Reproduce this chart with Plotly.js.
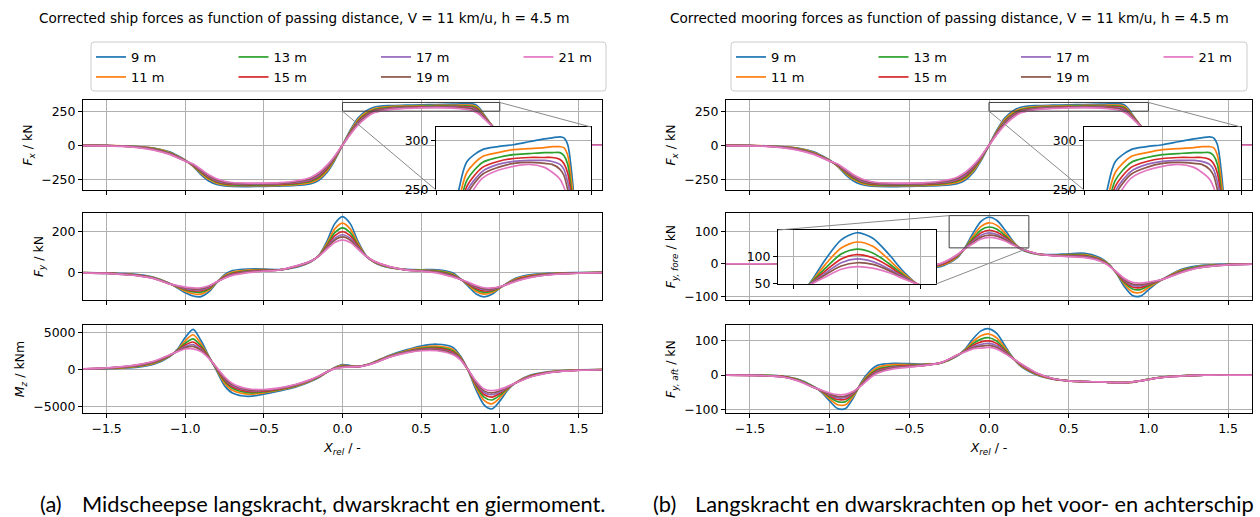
<!DOCTYPE html>
<html><head><meta charset="utf-8">
<script src="https://cdn.plot.ly/plotly-3.0.1.min.js"></script>
<style>html,body{margin:0;padding:0;background:#fff;overflow:hidden}#chart{width:1260px;height:517px;overflow:hidden}</style>
</head><body><div id="chart"></div>
<script>
const SERIES = ['9 m','11 m','13 m','15 m','17 m','19 m','21 m'];
const COLORS = ['#1f77b4','#ff7f0e','#2ca02c','#d62728','#9467bd','#8c564b','#e377c2'];
const X_TICKS = [-1.5,-1,-0.5,0,0.5,1,1.5];

const X = [-1.65,-1.5,-1.4,-1.3,-1.2,-1.1,-1.05,-1.0,-0.95,-0.9,-0.85,-0.8,-0.75,-0.7,-0.6,-0.5,-0.4,-0.3,-0.2,-0.15,-0.1,-0.05,0,0.05,0.1,0.15,0.2,0.3,0.4,0.5,0.6,0.7,0.75,0.8,0.85,0.9,0.95,1.0,1.05,1.1,1.2,1.3,1.4,1.5,1.65];
const X_FX = [-1.65,-1.5,-1.4,-1.3,-1.2,-1.1,-1.05,-1.0,-0.95,-0.9,-0.85,-0.8,-0.75,-0.7,-0.6,-0.5,-0.4,-0.3,-0.2,-0.15,-0.1,-0.05,0,0.05,0.1,0.15,0.2,0.3,0.4,0.5,0.6,0.7,0.75,0.8,0.825,0.85,0.875,0.9,0.95,1.0,1.05,1.1,1.2,1.3,1.4,1.5,1.65];

// Fx (kN)
const fx9  = [-1,-2,-4,-9,-20,-48,-75,-108,-155,-215,-262,-287,-298,-302,-303,-301,-299,-295,-281,-256,-202,-112,0,112,202,252,279,291,294,296,299,302,303,304,303,296,268,225,145,80,38,17,5,1,0,0,0];
const fx11 = [-1,-2,-5,-10,-23,-53,-80,-110,-152,-205,-250,-278,-291,-296,-297,-296,-294,-289,-272,-245,-190,-104,0,104,190,240,268,284,288,291,292,293,294,294,293,285,258,220,145,81,39,18,5,1,0,0,0];
const fx13 = [-1,-3,-5,-11,-25,-57,-83,-112,-149,-198,-242,-271,-285,-291,-292,-291,-289,-283,-264,-235,-180,-98,0,98,180,230,260,278,283,286,287,288,288,288,285,276,248,215,144,82,40,19,6,1,0,0,0];
const fx15 = [-1,-3,-6,-13,-28,-60,-85,-113,-146,-192,-235,-265,-280,-286,-288,-287,-285,-278,-257,-226,-171,-92,0,92,172,222,254,273,279,282,283,283,283,281,277,267,242,210,144,82,40,19,6,1,0,0,0];
const fx17 = [-2,-3,-6,-14,-30,-62,-87,-114,-143,-187,-229,-259,-275,-282,-284,-284,-281,-273,-250,-218,-163,-88,0,88,166,216,249,269,276,279,280,280,279,276,271,258,236,205,143,83,41,20,6,2,0,0,0];
const fx19 = [-2,-3,-7,-15,-32,-64,-89,-115,-141,-182,-223,-253,-270,-278,-281,-281,-278,-268,-243,-210,-156,-84,0,84,160,210,245,266,273,277,278,277,276,271,265,250,230,200,142,84,42,21,7,2,1,0,0];
const fx21 = [-2,-4,-8,-17,-35,-67,-91,-116,-138,-176,-216,-246,-264,-273,-277,-277,-274,-262,-234,-200,-148,-80,0,80,150,202,238,262,270,274,276,273,268,261,253,240,222,195,140,85,45,22,7,2,1,0,0];

// Fy ship (kN)
const fy9  = [-2,-4,-7,-12,-25,-55,-78,-102,-118,-121,-98,-52,-12,8,16,16,13,24,52,84,152,240,276,240,150,82,50,22,14,12,12,-3,-33,-70,-108,-122,-110,-80,-52,-30,-12,-6,-3,-2,-1];
const fy11 = [-2,-5,-8,-14,-27,-56,-75,-94,-107,-109,-89,-51,-17,1,11,13,12,26,53,83,141,214,244,214,140,81,51,24,13,10,8,-9,-34,-64,-96,-109,-101,-78,-54,-34,-16,-8,-4,-3,-1];
const fy13 = [-2,-5,-9,-15,-28,-56,-73,-88,-98,-99,-83,-50,-21,-4,7,11,12,27,54,82,133,195,220,195,132,81,52,25,13,9,5,-13,-34,-60,-87,-100,-94,-76,-56,-38,-19,-10,-5,-3,-1];
const fy15 = [-3,-5,-10,-16,-30,-57,-71,-84,-92,-92,-78,-49,-24,-8,4,9,12,28,55,81,127,180,201,180,127,80,53,26,13,7,2,-17,-35,-57,-81,-93,-89,-75,-57,-40,-21,-11,-6,-4,-2];
const fy17 = [-3,-6,-10,-17,-30,-57,-69,-80,-87,-87,-74,-49,-26,-11,2,7,11,29,55,81,122,168,186,168,122,80,54,27,12,7,0,-19,-35,-54,-75,-87,-85,-74,-58,-42,-23,-12,-7,-4,-2];
const fy19 = [-3,-6,-11,-17,-31,-58,-68,-77,-83,-82,-71,-48,-28,-13,0,6,11,29,56,80,119,159,175,159,118,79,54,27,12,6,-1,-21,-36,-52,-71,-82,-82,-73,-59,-44,-24,-13,-7,-5,-2];
const fy21 = [-3,-6,-11,-18,-32,-58,-67,-74,-78,-77,-67,-48,-30,-16,-2,5,11,30,56,80,114,148,161,148,114,79,55,28,12,5,-3,-24,-36,-50,-66,-77,-78,-72,-60,-46,-26,-14,-8,-5,-2];

// Mz (kNm)
const mz9  = [30,80,150,300,700,1700,2700,4300,5420,3900,1800,-200,-2200,-3200,-3650,-3350,-2900,-2400,-1600,-1100,-400,250,650,500,400,600,1000,1900,2600,3150,3400,3000,1800,-200,-2800,-4800,-5350,-4300,-2800,-1800,-750,-350,-150,-80,-30];
const mz11 = [40,115,215,400,810,1770,2620,3870,4680,3480,1720,-70,-1860,-2840,-3360,-3170,-2790,-2300,-1530,-1040,-390,210,540,450,390,590,960,1830,2490,2970,3150,2720,1660,-170,-2460,-4200,-4660,-3850,-2660,-1810,-820,-390,-180,-90,-40];
const mz13 = [45,140,265,470,900,1820,2550,3540,4130,3170,1650,20,-1610,-2560,-3150,-3040,-2700,-2230,-1480,-1000,-380,180,450,420,380,580,930,1780,2400,2840,2970,2510,1560,-150,-2210,-3750,-4140,-3520,-2560,-1830,-870,-420,-200,-100,-40];
const mz15 = [50,160,300,530,960,1860,2500,3290,3700,2930,1610,90,-1420,-2360,-2980,-2940,-2640,-2170,-1440,-970,-370,150,390,390,370,570,900,1740,2340,2740,2830,2350,1480,-140,-2020,-3400,-3750,-3260,-2480,-1830,-910,-450,-220,-110,-40];
const mz17 = [55,175,330,575,1010,1900,2470,3090,3360,2730,1570,150,-1260,-2190,-2850,-2860,-2590,-2130,-1400,-940,-360,130,340,370,370,560,880,1700,2290,2660,2710,2220,1410,-120,-1860,-3120,-3420,-3050,-2410,-1840,-950,-470,-230,-120,-50];
const mz19 = [55,185,350,610,1050,1920,2440,2940,3100,2580,1540,200,-1140,-2060,-2740,-2800,-2550,-2090,-1380,-920,-360,120,300,350,360,560,870,1680,2250,2600,2630,2120,1360,-110,-1740,-2910,-3180,-2890,-2360,-1840,-970,-480,-240,-120,-50];
const mz21 = [60,200,380,650,1100,1950,2400,2750,2780,2400,1500,250,-1000,-1900,-2620,-2720,-2500,-2050,-1350,-900,-350,100,250,330,360,550,850,1650,2200,2520,2520,2000,1300,-100,-1600,-2650,-2880,-2700,-2300,-1850,-1000,-500,-250,-130,-50];

// Fy fore (kN)
const fyf9  = [0,0,0,0,-1,-1,-2,-2,-3,-3,-4,-5,-5,-6,-8,-10,-12,-8,18,50,94,130,143,133,104,70,45,30,28,31,32,18,0,-30,-70,-97,-99,-80,-60,-44,-18,-7,-3,-1,0];
const fyf11 = [0,0,0,0,-1,-1,-2,-2,-3,-3,-4,-5,-5,-6,-8,-9,-11,-5,21,49,85,115,126,118,94,67,46,30,27,28,28,15,-1,-29,-63,-86,-88,-73,-58,-45,-21,-9,-4,-2,0];
const fyf13 = [0,0,0,0,-1,-1,-2,-2,-3,-3,-4,-5,-5,-6,-8,-9,-10,-3,23,49,78,104,113,106,87,64,46,30,27,27,26,13,-2,-28,-58,-77,-79,-68,-56,-45,-23,-10,-5,-2,0];
const fyf15 = [0,0,0,-1,-1,-2,-2,-3,-3,-4,-4,-5,-5,-6,-7,-9,-9,-2,25,48,73,95,103,97,82,62,46,31,26,25,24,12,-3,-27,-54,-71,-73,-64,-55,-45,-25,-12,-6,-2,-1];
const fyf17 = [0,0,0,-1,-1,-2,-2,-3,-3,-4,-4,-5,-5,-6,-7,-8,-8,0,26,48,69,88,95,90,77,61,47,31,26,24,22,10,-4,-26,-51,-66,-68,-61,-54,-46,-26,-12,-6,-3,-1];
const fyf19 = [0,0,0,-1,-1,-2,-2,-3,-3,-4,-4,-5,-5,-6,-7,-8,-8,1,27,47,66,82,88,85,74,59,47,31,25,23,21,9,-4,-26,-48,-62,-64,-59,-53,-46,-27,-13,-7,-3,-1];
const fyf21 = [0,0,0,-1,-1,-2,-2,-3,-3,-4,-4,-5,-5,-6,-7,-8,-7,2,28,47,62,76,81,78,70,58,47,31,25,22,19,8,-5,-25,-45,-57,-59,-56,-52,-46,-28,-14,-7,-3,-1];

// Fy aft (kN)
const fya9  = [0,0,-1,-3,-12,-33,-50,-75,-97,-97,-65,-20,10,28,34,33,32,35,55,75,105,128,134,120,85,50,25,0,-12,-17,-19,-20,-21,-22,-22,-21,-17,-12,-8,-5,-2,-1,0,0,0];
const fya11 = [0,0,-1,-4,-13,-34,-48,-69,-86,-86,-60,-23,4,22,30,30,31,35,56,73,97,114,119,107,79,49,27,2,-11,-17,-19,-20,-21,-22,-22,-21,-17,-12,-8,-5,-2,-1,0,0,0];
const fya13 = [0,0,-1,-4,-14,-34,-47,-64,-77,-77,-56,-25,0,17,26,28,30,35,56,71,91,104,108,98,74,49,29,3,-11,-17,-19,-20,-21,-22,-22,-20,-17,-12,-8,-5,-2,-1,0,0,0];
const fya15 = [0,-1,-2,-4,-15,-35,-46,-60,-71,-70,-53,-27,-3,13,24,27,29,36,57,70,86,96,99,91,70,49,30,4,-11,-17,-19,-20,-21,-22,-22,-20,-17,-13,-9,-6,-3,-1,0,0,0];
const fya17 = [0,-1,-2,-5,-16,-35,-45,-57,-66,-65,-51,-28,-6,10,22,25,29,36,57,69,82,89,92,85,67,48,31,5,-10,-17,-19,-20,-21,-22,-22,-20,-17,-13,-9,-6,-3,-1,0,0,0];
const fya19 = [0,-1,-2,-5,-16,-36,-45,-55,-62,-61,-49,-29,-8,8,20,24,28,36,58,68,79,84,86,80,65,48,32,5,-10,-17,-19,-20,-21,-22,-22,-20,-17,-13,-9,-6,-3,-1,0,0,0];
const fya21 = [0,-1,-2,-5,-17,-36,-44,-52,-57,-56,-47,-30,-10,5,18,23,28,36,58,67,76,78,80,75,62,48,33,6,-10,-17,-19,-20,-21,-22,-22,-20,-17,-13,-9,-6,-3,-1,0,0,0];

const FX  = [fx9,fx11,fx13,fx15,fx17,fx19,fx21];
const FY  = [fy9,fy11,fy13,fy15,fy17,fy19,fy21];
const MZ  = [mz9,mz11,mz13,mz15,mz17,mz19,mz21];
const FYF = [fyf9,fyf11,fyf13,fyf15,fyf17,fyf19,fyf21];
const FYA = [fya9,fya11,fya13,fya15,fya17,fya19,fya21];

// ---------- layout geometry (pixels) ----------
const W = 1260, H = 517;
const dx = (a,b) => [a/W, b/W];
const dy = (t,b) => [1-b/H, 1-t/H];
const PX = {L:[83,602], R:[726,1252]};
const PY = {T:[100,190], M:[213,300], B:[325,413]};
const INSET = {
  7:{x:[436,591], y:[127,190], xr:[0,1], yr:[250,314], parent:1},
  8:{x:[1084,1241], y:[127,190], xr:[0,1], yr:[250,314], parent:4},
  9:{x:[778,936], y:[230,284], xr:[-0.25,0.25], yr:[49,148], parent:5}
};

const panels = [
  {id:1, xs:X_FX, ys:FX,  col:'L', row:'T', yr:[-328,332], ytv:[-250,0,250], title:'<i>F<sub>x</sub></i> / kN'},
  {id:2, xs:X,    ys:FY,  col:'L', row:'M', yr:[-138,294], ytv:[0,200], title:'<i>F<sub>y</sub></i> / kN'},
  {id:3, xs:X,    ys:MZ,  col:'L', row:'B', yr:[-5900,6000], ytv:[-5000,0,5000], title:'<i>M<sub>z</sub></i> / kNm'},
  {id:4, xs:X_FX, ys:FX,  col:'R', row:'T', yr:[-328,332], ytv:[-250,0,250], title:'<i>F<sub>x</sub></i> / kN'},
  {id:5, xs:X,    ys:FYF, col:'R', row:'M', yr:[-111,156], ytv:[-100,0,100], title:'<i>F<sub>y, fore</sub></i> / kN'},
  {id:6, xs:X,    ys:FYA, col:'R', row:'B', yr:[-110,145], ytv:[-100,0,100], title:'<i>F<sub>y, aft</sub></i> / kN'},
  {id:7, xs:X_FX, ys:FX,  inset:true, ytv:[250,300], xtv:[0,0.5,1]},
  {id:8, xs:X_FX, ys:FX,  inset:true, ytv:[250,300], xtv:[0,0.5,1]},
  {id:9, xs:X,    ys:FYF, inset:true, ytv:[50,100], xtv:[-0.2,0,0.2]}
];

const FONT = 'DejaVu Sans';
const TICK_SIZE = 12.5;
const axBase = {
  showline:true, mirror:true, linecolor:'#000', linewidth:1,
  ticks:'outside', ticklen:4, tickwidth:1, tickcolor:'#000',
  showgrid:true, gridcolor:'#b0b0b0', gridwidth:1, zeroline:false,
  tickfont:{family:FONT, size:TICK_SIZE, color:'#000'}, fixedrange:true
};

const traces = [];
const layout = {
  width:W, height:H, margin:{l:0,r:0,t:0,b:0},
  paper_bgcolor:'#fff', plot_bgcolor:'#fff', showlegend:true,
  font:{family:FONT, size:12, color:'#000'},
  annotations:[], shapes:[]
};

panels.forEach(p => {
  const sfx = p.id === 1 ? '' : String(p.id);
  const xk = 'xaxis' + sfx, yk = 'yaxis' + sfx;
  let xdom, ydom, xr, yr;
  if (p.inset) {
    const g = INSET[p.id];
    xdom = dx(g.x[0], g.x[1]); ydom = dy(g.y[0], g.y[1]); xr = g.xr; yr = g.yr;
  } else {
    xdom = dx(PX[p.col][0], PX[p.col][1]); ydom = dy(PY[p.row][0], PY[p.row][1]);
    xr = [-1.65, 1.65]; yr = p.yr;
  }
  const bottom = !p.inset && p.row === 'B';
  layout[xk] = Object.assign({}, axBase, {
    domain:xdom, range:xr, anchor:'y'+sfx,
    tickvals: p.inset ? p.xtv : X_TICKS, tickformat:'.1f',
    showticklabels: bottom
  });
  if (bottom) layout[xk].title = {text:'<i>X<sub>rel</sub></i> / -', font:{family:FONT,size:TICK_SIZE,color:'#000'}, standoff:8};
  layout[yk] = Object.assign({}, axBase, {
    domain:ydom, range:yr, anchor:'x'+sfx, tickvals:p.ytv, tickformat:'d'
  });
  if (p.title) layout[yk].title = {text:p.title, font:{family:FONT,size:TICK_SIZE,color:'#000'}, standoff:5};
  p.ys.forEach((ys, k) => {
    let leg = null;
    if (p.id === 1) leg = (k % 2 === 0) ? 'legend' : 'legend2';
    if (p.id === 4) leg = (k % 2 === 0) ? 'legend3' : 'legend4';
    const t = {
      type:'scatter', mode:'lines', x:p.xs, y:ys, name:SERIES[k],
      xaxis:'x'+sfx, yaxis:'y'+sfx,
      line:{color:COLORS[k], width:1.7, shape:'spline', smoothing:0.8},
      showlegend: leg !== null, hoverinfo:'skip'
    };
    if (leg) { t.legend = leg; if (k === 6) t.legendwidth = 40; }
    traces.push(t);
  });
});

// legends (two rows per panel group, four columns)
function legendAt(xpx, ypx) {
  return {x:xpx/W, y:1-ypx/H, xanchor:'left', yanchor:'middle', orientation:'h',
    entrywidth:97.5, entrywidthmode:'pixels', bgcolor:'rgba(0,0,0,0)', borderwidth:0,
    itemwidth:30, font:{family:FONT, size:13, color:'#000'}};
}
layout.legend  = legendAt(91, 57);
layout.legend2 = legendAt(91, 77);
layout.legend3 = legendAt(731, 57);
layout.legend4 = legendAt(731, 77);

// legend frames (rounded)
function roundRect(x0,y0,x1,y1,r){
  const X0=x0/W, X1=x1/W, Y0=1-y0/H, Y1=1-y1/H, rx=r/W, ry=r/H;
  return `M${X0+rx},${Y0} L${X1-rx},${Y0} Q${X1},${Y0} ${X1},${Y0-ry} L${X1},${Y1+ry} Q${X1},${Y1} ${X1-rx},${Y1} L${X0+rx},${Y1} Q${X0},${Y1} ${X0},${Y1+ry} L${X0},${Y0-ry} Q${X0},${Y0} ${X0+rx},${Y0} Z`;
}
[[91,42,606,91],[731,42,1247,91]].forEach(b => {
  layout.shapes.push({type:'path', xref:'paper', yref:'paper', path:roundRect(b[0],b[1],b[2],b[3],3),
    line:{color:'#cccccc', width:1}, fillcolor:'rgba(255,255,255,0.8)', layer:'below'});
});

// inset indicators
function mainGeom(id){ const p = panels[id-1]; return {xd:dx(PX[p.col][0],PX[p.col][1]), yd:dy(PY[p.row][0],PY[p.row][1]), xr:[-1.65,1.65], yr:p.yr}; }
const toPX = (g,v) => g.xd[0] + (v-g.xr[0])/(g.xr[1]-g.xr[0])*(g.xd[1]-g.xd[0]);
const toPY = (g,v) => g.yd[0] + (v-g.yr[0])/(g.yr[1]-g.yr[0])*(g.yd[1]-g.yd[0]);
const CONNECT = {7:[['l','b'],['r','t']], 8:[['l','b'],['r','t']], 9:[['l','t'],['r','b']]};
[7,8,9].forEach(id => {
  const g = INSET[id], m = mainGeom(g.parent);
  const bx0 = toPX(m,g.xr[0]), bx1 = toPX(m,g.xr[1]), by0 = toPY(m,g.yr[0]), by1 = toPY(m,g.yr[1]);
  layout.shapes.push({type:'rect', xref:'paper', yref:'paper', x0:bx0, x1:bx1, y0:by0, y1:by1,
    line:{color:'#404040', width:1}, fillcolor:'rgba(0,0,0,0)'});
  const ix = dx(g.x[0],g.x[1]), iy = dy(g.y[0],g.y[1]);
  CONNECT[id].forEach(c => {
    const x0 = c[0]==='l'?bx0:bx1, y0 = c[1]==='b'?by0:by1;
    const x1 = c[0]==='l'?ix[0]:ix[1], y1 = c[1]==='b'?iy[0]:iy[1];
    layout.shapes.push({type:'line', xref:'paper', yref:'paper', x0:x0, y0:y0, x1:x1, y1:y1,
      line:{color:'#8a8a8a', width:1}});
  });
});

// titles and captions
const ann = (xpx, ypx, text, size, family, xanchor) => ({xref:'paper', yref:'paper', x:xpx/W, y:1-ypx/H,
  text:text, showarrow:false, xanchor:xanchor||'center', yanchor:'middle', font:{family:family, size:size, color:'#000'}});
layout.annotations.push(ann(304, 18, 'Corrected ship forces as function of passing distance, V = 11 km/u, h = 4.5 m', 13.6, FONT));
layout.annotations.push(ann(949, 18, 'Corrected mooring forces as function of passing distance, V = 11 km/u, h = 4.5 m', 13.6, FONT));
layout.annotations.push(ann(38, 503, '(a)', 21.8, 'Lato', 'left'));
layout.annotations.push(ann(80, 503, 'Midscheepse langskracht, dwarskracht en giermoment.', 21.8, 'Lato', 'left'));
layout.annotations.push(ann(651, 503, '(b)', 21.8, 'Lato', 'left'));
layout.annotations.push(ann(693, 503, 'Langskracht en dwarskrachten op het voor- en achterschip', 21.8, 'Lato', 'left'));

Plotly.newPlot('chart', traces, layout, {staticPlot:true, displayModeBar:false});
</script></body></html>
